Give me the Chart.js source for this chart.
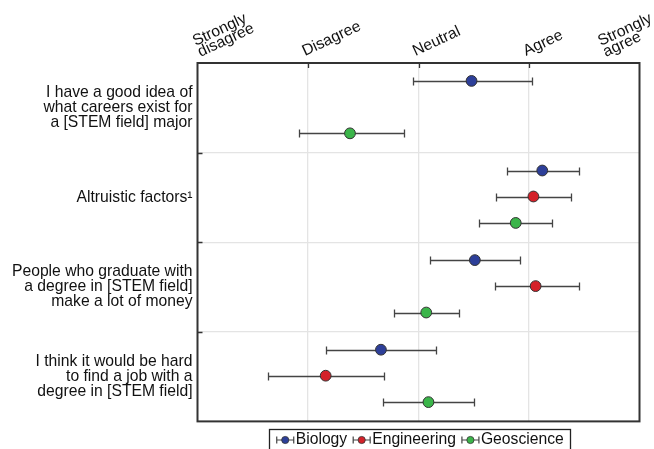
<!DOCTYPE html>
<html>
<head>
<meta charset="utf-8">
<script src="https://cdn.jsdelivr.net/npm/chart.js@4.4.0/dist/chart.umd.min.js"></script>
<style>
html, body { margin: 0; padding: 0; background: #fff; }
</style>
</head>
<body>
<canvas id="errChart" width="654" height="449"></canvas>
<script>
// statements shown on the left, top to bottom
var statements = [
    ['I have a good idea of', 'what careers exist for', 'a [STEM field] major'],
    ['Altruistic factors\u00b9'],
    ['People who graduate with', 'a degree in [STEM field]', 'make a lot of money'],
    ['I think it would be hard', 'to find a job with a', 'degree in [STEM field]']
];
var scaleValues = [1, 2, 3, 4, 5];
var scaleLabels = [['Strongly', 'disagree'], ['Disagree'], ['Neutral'], ['Agree'], ['Strongly', 'agree']];
var seriesNames = ['Biology', 'Engineering', 'Geoscience'];

// mean and error range per statement (null = not asked)
var biologyMean = [3.48, 4.12, 3.51, 2.66];
var biologyLow = [2.95, 3.80, 3.10, 2.16];
var biologyHigh = [4.03, 4.45, 3.92, 3.16];

var engineeringMean = [null, 4.04, 4.06, 2.16];
var engineeringLow = [null, 3.70, 3.69, 1.64];
var engineeringHigh = [null, 4.38, 4.45, 2.69];

var geoscienceMean = [2.38, 3.88, 3.07, 3.09];
var geoscienceLow = [1.92, 3.55, 2.78, 2.68];
var geoscienceHigh = [2.87, 4.21, 3.37, 3.50];

var colors = ['#2d3f99', '#d42129', '#3bb54a'];
var rowOffset = [0.2, 0.49, 0.785]; // where each group sits inside a statement band

var FONT = "'Liberation Sans', Arial, sans-serif";
var FSIZE = 15.7;

function buildData(mean, low, high, s) {
    var out = [];
    for (var i = 0; i < mean.length; i++) {
        if (mean[i] === null) continue;
        out.push({ x: mean[i], y: i + rowOffset[s], low: low[i], high: high[i] });
    }
    return out;
}

var errorBars = {
    id: 'errorBars',
    beforeDatasetsDraw: function(chart) {
        var ctx = chart.ctx, xs = chart.scales.x, ys = chart.scales.y;
        ctx.save();
        ctx.strokeStyle = '#444';
        ctx.lineWidth = 1.3;
        chart.data.datasets.forEach(function(ds) {
            ds.data.forEach(function(p) {
                var y = Math.round(ys.getPixelForValue(p.y)) + 0.5;
                var x0 = Math.round(xs.getPixelForValue(p.low)) + 0.5;
                var x1 = Math.round(xs.getPixelForValue(p.high)) + 0.5;
                ctx.beginPath();
                ctx.moveTo(x0, y); ctx.lineTo(x1, y);
                ctx.moveTo(x0, y - 4); ctx.lineTo(x0, y + 4);
                ctx.moveTo(x1, y - 4); ctx.lineTo(x1, y + 4);
                ctx.stroke();
            });
        });
        ctx.restore();
    }
};

var frame = {
    id: 'frame',
    afterDraw: function(chart) {
        var ctx = chart.ctx, a = chart.chartArea, xs = chart.scales.x, ys = chart.scales.y;
        ctx.save();
        ctx.strokeStyle = '#333';
        ctx.lineWidth = 2;
        ctx.strokeRect(a.left, a.top, a.right - a.left, a.bottom - a.top);
        // inside tick marks
        ctx.lineWidth = 1.3;
        ctx.beginPath();
        [2, 3, 4].forEach(function(v) {
            var x = Math.round(xs.getPixelForValue(v)) + 0.5;
            ctx.moveTo(x, a.top); ctx.lineTo(x, a.top + 5);
        });
        [1, 2, 3].forEach(function(v) {
            var y = Math.round(ys.getPixelForValue(v)) + 0.5;
            ctx.moveTo(a.left, y); ctx.lineTo(a.left + 5, y);
        });
        ctx.stroke();

        // slanted scale labels along the top
        var ang = 25 * Math.PI / 180, lh = 12;
        ctx.font = FSIZE + 'px ' + FONT;
        ctx.fillStyle = '#111';
        ctx.textBaseline = 'alphabetic';
        ctx.textAlign = 'left';
        scaleValues.forEach(function(v, i) {
            var lines = scaleLabels[i];
            var ax = xs.getPixelForValue(v) - 3, ay = 56;
            if (lines.length > 1) { ax += 6; ay += 1; }
            // keep the last label inside the canvas
            var w = 0;
            lines.forEach(function(t) { w = Math.max(w, ctx.measureText(t).width); });
            var right = ax + w * Math.cos(ang) + 4;
            if (right > chart.width + 8) ax -= right - (chart.width + 8);
            ctx.save();
            ctx.translate(ax, ay);
            ctx.rotate(-ang);
            lines.forEach(function(t, j) {
                ctx.fillText(t, 0, -(lines.length - 1 - j) * lh);
            });
            ctx.restore();
        });

        // legend
        ctx.font = FSIZE + 'px ' + FONT;
        ctx.textBaseline = 'middle';
        var mark = 18, gapText = 1.5, gapItem = 5.5;
        var total = 0;
        seriesNames.forEach(function(n, i) {
            total += mark + gapText + ctx.measureText(n).width + (i < seriesNames.length - 1 ? gapItem : 0);
        });
        var cx = (a.left + a.right) / 2 + 1.5;
        var x = cx - total / 2, y = 440;
        ctx.strokeStyle = '#222';
        ctx.lineWidth = 1.3;
        ctx.strokeRect(Math.round(x - 7) + 0.5, 429.5, Math.round(total + 13), 30);
        seriesNames.forEach(function(n, i) {
            ctx.strokeStyle = '#444';
            ctx.lineWidth = 1.2;
            ctx.beginPath();
            ctx.moveTo(x, y); ctx.lineTo(x + mark, y);
            ctx.moveTo(x + 0.5, y - 3.5); ctx.lineTo(x + 0.5, y + 3.5);
            ctx.moveTo(x + mark - 0.5, y - 3.5); ctx.lineTo(x + mark - 0.5, y + 3.5);
            ctx.stroke();
            ctx.beginPath();
            ctx.arc(x + mark / 2, y, 3.6, 0, Math.PI * 2);
            ctx.fillStyle = colors[i];
            ctx.fill();
            ctx.strokeStyle = '#333';
            ctx.lineWidth = 0.8;
            ctx.stroke();
            ctx.fillStyle = '#111';
            ctx.fillText(n, x + mark + gapText, y);
            x += mark + gapText + ctx.measureText(n).width + gapItem;
        });
        ctx.restore();
    }
};

var ctx = document.getElementById('errChart').getContext('2d');
var myChart = new Chart(ctx, {
    type: 'scatter',
    data: {
        datasets: [
            { label: 'Biology', data: buildData(biologyMean, biologyLow, biologyHigh, 0) },
            { label: 'Engineering', data: buildData(engineeringMean, engineeringLow, engineeringHigh, 1) },
            { label: 'Geoscience', data: buildData(geoscienceMean, geoscienceLow, geoscienceHigh, 2) }
        ].map(function(ds, i) {
            ds.backgroundColor = colors[i];
            ds.borderColor = '#333';
            ds.borderWidth = 1;
            ds.pointRadius = 5.4;
            ds.pointHoverRadius = 5.4;
            return ds;
        })
    },
    options: {
        responsive: false,
        animation: false,
        layout: { padding: { left: 0, right: 14.5, top: 0, bottom: 27 } },
        plugins: {
            legend: { display: false },
            tooltip: { enabled: false }
        },
        scales: {
            x: {
                type: 'linear',
                position: 'top',
                min: 1,
                max: 5,
                border: { display: false },
                grid: {
                    drawTicks: false,
                    color: function(c) { return (c.tick.value > 1 && c.tick.value < 5) ? '#e4e4e4' : 'rgba(0,0,0,0)'; },
                    lineWidth: 1.3
                },
                ticks: { stepSize: 1, display: false },
                afterFit: function(s) { s.height = 63; s.paddingLeft = 0; s.paddingRight = 0; }
            },
            y: {
                type: 'linear',
                reverse: true,
                min: 0,
                max: 4,
                border: { display: false },
                afterBuildTicks: function(s) {
                    s.ticks = [0.5, 1, 1.5, 2, 2.5, 3, 3.5].map(function(v) { return { value: v }; });
                },
                grid: {
                    drawTicks: false,
                    color: function(c) { return (c.tick.value % 1 === 0) ? '#e4e4e4' : 'rgba(0,0,0,0)'; },
                    lineWidth: 1.3
                },
                ticks: {
                    padding: 5,
                    color: '#111',
                    font: { family: FONT, size: FSIZE, lineHeight: 0.96 },
                    callback: function(v) { return (v % 1 === 0) ? '' : statements[Math.floor(v)]; }
                },
                afterFit: function(s) { s.width = 197.5; }
            }
        }
    },
    plugins: [errorBars, frame]
});
</script>
</body>
</html>
